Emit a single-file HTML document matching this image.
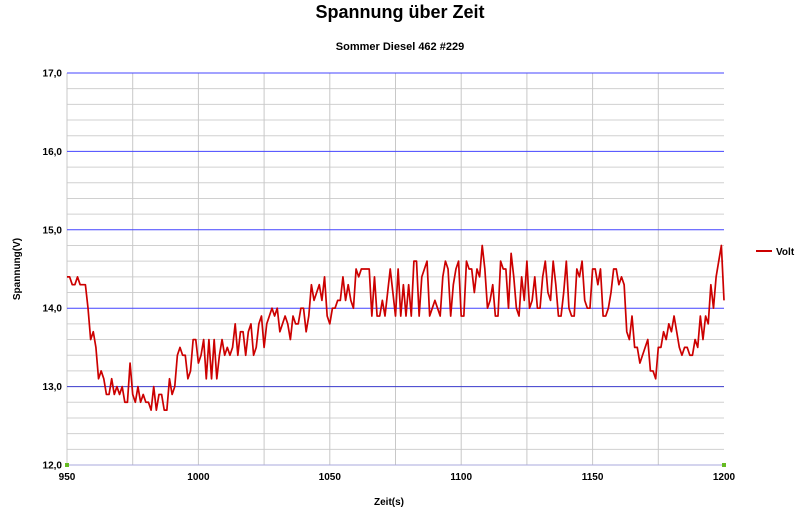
<!DOCTYPE html>
<html><head><meta charset="utf-8"><style>
body{margin:0;background:#fff;}
svg text{font-family:"Liberation Sans",sans-serif;font-weight:bold;}
</style></head><body>
<svg id="chart" width="800" height="516" viewBox="0 0 800 516" xmlns="http://www.w3.org/2000/svg">
<text x="400" y="18" text-anchor="middle" font-size="18">Spannung über Zeit</text>
<text x="400" y="50" text-anchor="middle" font-size="11">Sommer Diesel 462 #229</text>
<g id="grid"></g>
<g id="axes"></g>
<path id="line" fill="none" stroke="#cc0000" stroke-width="1.7" stroke-linejoin="round"/>
<text transform="translate(20,269) rotate(-90)" text-anchor="middle" font-size="10">Spannung(V)</text>
<text x="389" y="505" text-anchor="middle" font-size="10">Zeit(s)</text>
<g>
<line x1="756" y1="251" x2="772" y2="251" stroke="#cc0000" stroke-width="2"/>
<text x="776" y="255" font-size="10">Volt</text>
</g>
<rect x="65" y="463" width="4" height="4" fill="#66bb22"/>
<rect x="722" y="463" width="4" height="4" fill="#66bb22"/>
</svg>
<script>
const startTime = 950;
const volts = [
14.4,14.4,14.3,14.3,14.4,14.3,14.3,14.3,14.0,13.6,
13.7,13.5,13.1,13.2,13.1,12.9,12.9,13.1,12.9,13.0,
12.9,13.0,12.8,12.8,13.3,12.9,12.8,13.0,12.8,12.9,
12.8,12.8,12.7,13.0,12.7,12.9,12.9,12.7,12.7,13.1,
12.9,13.0,13.4,13.5,13.4,13.4,13.1,13.2,13.6,13.6,
13.3,13.4,13.6,13.1,13.6,13.1,13.6,13.1,13.4,13.6,
13.4,13.5,13.4,13.5,13.8,13.4,13.7,13.7,13.4,13.7,
13.8,13.4,13.5,13.8,13.9,13.5,13.8,13.9,14.0,13.9,
14.0,13.7,13.8,13.9,13.8,13.6,13.9,13.8,13.8,14.0,
14.0,13.7,13.9,
14.3,14.1,14.2,14.3,14.1,14.4,13.9,13.8,14.0,14.0,14.1,14.1,14.4,14.1,14.3,14.1,14.0,14.5,14.4,14.5,14.5,14.5,14.5,13.9,14.4,13.9,13.9,14.1,13.9,14.2,14.5,14.2,13.9,14.5,13.9,14.3,13.9,14.3,13.9,14.6,14.6,13.9,14.4,14.5,14.6,13.9,14.0,14.1,14.0,13.9,14.4,14.6,14.5,13.9,14.3,14.5,14.6,13.9,13.9,14.6,14.5,14.5,14.2,14.5,14.4,14.8,
14.5,
14.0,14.1,14.3,13.9,13.9,14.6,14.5,14.5,14.0,14.7,14.4,14.0,13.9,14.4,14.1,14.6,14.0,14.1,14.4,14.0,14.0,14.4,14.6,14.2,14.1,14.6,14.3,13.9,13.9,14.2,14.6,14.0,13.9,13.9,14.5,14.4,14.6,14.1,14.0,14.0,
14.5,14.5,14.3,14.5,13.9,13.9,14.0,14.2,14.5,14.5,14.3,14.4,14.3,13.7,13.6,13.9,13.5,13.5,13.3,13.4,13.5,13.6,13.2,13.2,13.1,13.5,13.5,13.7,13.6,13.8,13.7,13.9,13.7,13.5,13.4,13.5,13.5,13.4,13.4,13.6,13.5,13.9,13.6,13.9,13.8,14.3,14.0,14.4,14.6,14.8,14.1
];
const xTicks = [950,1000,1050,1100,1150,1200];
const xGrid = [975,1000,1025,1050,1075,1100,1125,1150,1175];
const yTicks = [12,13,14,15,16,17];
const yTickLabels = ["12,0","13,0","14,0","15,0","16,0","17,0"];

const X0=67,X1=724,Y0=465,Y1=73;
const xMin=950,xMax=1200,yMin=12,yMax=17;
const sx=v=>X0+(v-xMin)/(xMax-xMin)*(X1-X0);
const sy=v=>Y0-(v-yMin)/(yMax-yMin)*(Y0-Y1);
const NS="http://www.w3.org/2000/svg";
const grid=document.getElementById('grid');
const axes=document.getElementById('axes');
function mk(tag,attrs,parent){const e=document.createElementNS(NS,tag);for(const k in attrs)e.setAttribute(k,attrs[k]);parent.appendChild(e);return e;}

for(let v=12.2;v<17;v+=0.2){
  if(Math.abs(v-Math.round(v))<0.01)continue;
  const l=mk('line',{x1:X0,x2:X1,y1:sy(v),y2:sy(v),stroke:'#d0d0d0','stroke-width':1},grid);
  
  
}
xGrid.forEach(t=>{
  const l=mk('line',{x1:sx(t),x2:sx(t),y1:Y1,y2:Y0,stroke:'#c8c8c8','stroke-width':1},grid);
  
  
});
const l0=mk('line',{x1:X0,x2:X0,y1:Y1,y2:Y0,stroke:'#c8c8c8','stroke-width':1},grid);


yTicks.forEach((v,i)=>{
  const col=v<=13?'#3a3acc':'#4444ff';
  const l=mk('line',{x1:X0,x2:X1,y1:sy(v),y2:sy(v),stroke:v===12?'#aaaadd':col,'stroke-width':1},grid);
  
  
  const t=mk('text',{x:62,y:sy(v)+3.5,'text-anchor':'end','font-size':10},axes);
  t.textContent=yTickLabels[i];
  
  
});
xTicks.forEach(v=>{
  const t=mk('text',{x:sx(v),y:480,'text-anchor':'middle','font-size':10},axes);
  t.textContent=String(v);
  
  
});
let d='';
volts.forEach((v,i)=>{d+=(i?'L':'M')+sx(startTime+i).toFixed(2)+' '+sy(v).toFixed(2);});
document.getElementById('line').setAttribute('d',d);
</script>
</body></html>
